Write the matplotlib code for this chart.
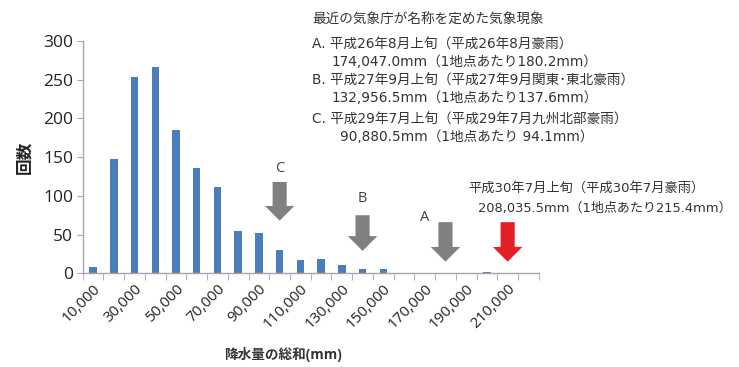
import math
import matplotlib
matplotlib.use("Agg")
import matplotlib.pyplot as plt
from matplotlib.patches import FancyArrow

plt.rcParams['font.family'] = ['DejaVu Sans', 'Noto Sans CJK JP']

# Total precipitation bins (upper bound, mm) and occurrence counts
bins = [10000, 20000, 30000, 40000, 50000, 60000, 70000, 80000, 90000, 100000,
        110000, 120000, 130000, 140000, 150000, 160000, 170000, 180000, 190000,
        200000, 210000, 220000]
counts = [8, 147, 254, 267, 185, 136, 111, 54, 52, 30, 17, 19, 11, 6, 6, 1,
          0, 0, 0, 2, 0, 0]

# Named heavy-rain events: label, total precipitation (mm)
event_labels = ["A", "B", "C"]
event_totals = [174047.0, 132956.5, 90880.5]
latest_total = 208035.5

y_ticks = [0, 50, 100, 150, 200, 250, 300]

BAR = "#4a7ebb"
GRAY = "#808080"
RED = "#e31e24"
AXIS = "#a6a6a6"
TXT = "#333333"
TICKFONT = ['Open Sans', 'DejaVu Sans']

fig = plt.figure(figsize=(7.39, 3.67), dpi=100)
ax = fig.add_axes([0.112, 0.2553, 0.617, 0.633])

x = list(range(len(bins)))
ax.bar(x, counts, width=0.36, color=BAR, zorder=2)

ax.set_xlim(-0.5, len(bins) - 0.5)
ax.set_ylim(0, 300)
ax.set_yticks(y_ticks)
ax.set_yticklabels([str(v) for v in y_ticks], fontsize=12.5, family=TICKFONT,
                   color="#222222")
ax.tick_params(axis='y', length=4, color=AXIS, pad=3)

ax.set_xticks(x[::2])
ax.set_xticklabels([f"{b:,}" for b in bins[::2]], rotation=45, ha='right',
                   rotation_mode='anchor', fontsize=11, family=TICKFONT,
                   color="#222222")
ax.set_xticks([i - 0.5 for i in range(len(bins) + 1)], minor=True)
ax.tick_params(axis='x', which='major', length=0, pad=6)
ax.tick_params(axis='x', which='minor', length=5, color=AXIS)

for s in ("top", "right"):
    ax.spines[s].set_visible(False)
for s in ("left", "bottom"):
    ax.spines[s].set_color(AXIS)
    ax.spines[s].set_linewidth(1.0)


def bin_index(total):
    return bins.index(int(math.ceil(total / 10000.0) * 10000))


def down_arrow(idx, top, tip, color):
    ax.add_patch(FancyArrow(idx, top, 0, tip - top, width=0.68, head_width=1.42,
                            head_length=19, length_includes_head=True,
                            color=color, lw=0, zorder=3))


# Arrow tops / tips (counts scale) and label offsets for each event
arrow_top = {"A": 66, "B": 75, "C": 118}
arrow_tip = {"A": 15, "B": 29, "C": 68}
label_pos = {"A": (-1.0, 72), "B": (0.0, 97), "C": (0.0, 135)}

for lab, tot in zip(event_labels, event_totals):
    i = bin_index(tot)
    down_arrow(i, arrow_top[lab], arrow_tip[lab], GRAY)
    dx, ly = label_pos[lab]
    ax.text(i + dx, ly, lab, ha='center', va='center', fontsize=10.5,
            color="#404040", family=TICKFONT)

down_arrow(bin_index(latest_total), 66, 15, RED)

fig.text(24 / 739, 1 - 157 / 367, "回数", rotation=90, ha='center', va='center',
         fontsize=12, fontweight='bold', color="#222222",
         family=['Noto Sans CJK JP'])
fig.text(283 / 739, 1 - 355 / 367, "降水量の総和(mm)", ha='center', va='center',
         fontsize=9.8, fontweight='bold', color="#333333",
         family=['Open Sans', 'Noto Sans CJK JP'])

# Legend block describing the named events
lines = [
    (312, 20, 9.8, "最近の気象庁が名称を定めた気象現象"),
    (312, 45, 9.8, "A. 平成26年8月上旬（平成26年8月豪雨）"),
    (332, 62, 9.8, "174,047.0mm（1地点あたり180.2mm）"),
    (312, 81, 9.8, "B. 平成27年9月上旬（平成27年9月関東･東北豪雨）"),
    (332, 98, 9.8, "132,956.5mm（1地点あたり137.6mm）"),
    (312, 120, 9.8, "C. 平成29年7月上旬（平成29年7月九州北部豪雨）"),
    (340, 137, 9.8, "90,880.5mm（1地点あたり 94.1mm）"),
    (468, 188, 9.5, "平成30年7月上旬（平成30年7月豪雨）"),
    (478, 208, 9.4, f"{latest_total:,.1f}mm（1地点あたり215.4mm）"),
]
for px, py, fs, s in lines:
    fig.text(px / 739, 1 - py / 367, s, ha='left', va='center', fontsize=fs,
             color=TXT)

fig.savefig("out.png", dpi=100)
